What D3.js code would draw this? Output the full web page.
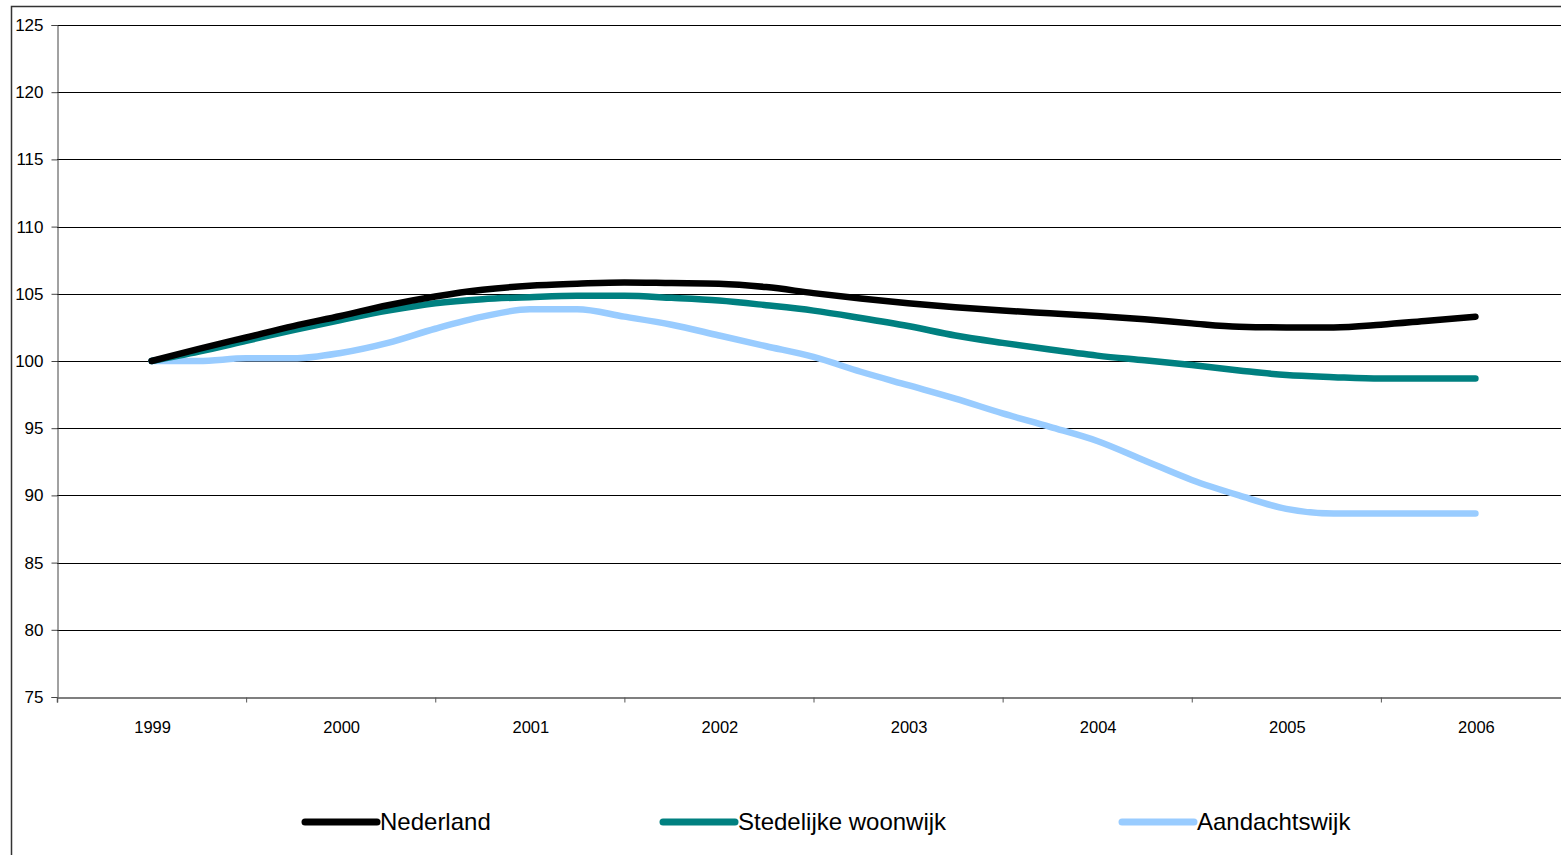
<!DOCTYPE html>
<html>
<head>
<meta charset="utf-8">
<script src="https://cdn.jsdelivr.net/npm/d3@7"></script>
<style>
  html, body { margin: 0; padding: 0; background: #fff; }
  svg { display: block; font-family: "Liberation Sans", Arial, sans-serif; }
</style>
</head>
<body>
<svg id="chart" width="1561" height="855"></svg>
<script>
// ---- Data ----
const years = ["1999", "2000", "2001", "2002", "2003", "2004", "2005", "2006"];
const yTicks = [75, 80, 85, 90, 95, 100, 105, 110, 115, 120, 125];
const seriesNames = ["Nederland", "Stedelijke woonwijk", "Aandachtswijk"];
// quarterly index values, 1999 Q1 .. 2006 Q1 (29 points)
const nederland = [100.0, 100.9, 101.75, 102.6, 103.35, 104.15, 104.8, 105.3, 105.6, 105.75, 105.85, 105.8, 105.75, 105.5, 105.05, 104.65, 104.3, 104.0, 103.75, 103.55, 103.35, 103.1, 102.8, 102.55, 102.5, 102.5, 102.7, 103.0, 103.3];
const stedelijk = [100.0, 100.7, 101.5, 102.3, 103.05, 103.75, 104.3, 104.6, 104.75, 104.85, 104.85, 104.7, 104.5, 104.15, 103.75, 103.2, 102.6, 101.9, 101.35, 100.85, 100.4, 100.05, 99.7, 99.3, 98.95, 98.8, 98.7, 98.7, 98.7];
const aandacht = [100.0, 100.0, 100.2, 100.2, 100.6, 101.35, 102.4, 103.3, 103.85, 103.85, 103.3, 102.7, 101.9, 101.1, 100.3, 99.2, 98.2, 97.2, 96.1, 95.1, 94.05, 92.6, 91.15, 90.0, 89.0, 88.65, 88.65, 88.65, 88.65];
const colors = ["#000000", "#008080", "#99CCFF"];

// ---- Layout ----
const svg = d3.select("#chart");
const mLeft = 57, mRight = 1570, mTop = 25, mBottom = 697;

// x over quarter index; each year is a category 4 quarters wide, label at Q1 point
const x = d3.scaleLinear().domain([-2, 30]).range([mLeft, mRight]);
const y = d3.scaleLinear().domain([75, 125]).range([mBottom, mTop]);

// frame
svg.append("rect").attr("x", 11.5).attr("y", 6.5).attr("width", 1600).attr("height", 900)
  .attr("fill", "none").attr("stroke", "#333").attr("stroke-width", 1.5);

// gridlines
svg.append("g").selectAll("line").data(yTicks.filter(d => d !== 75)).join("line")
  .attr("x1", mLeft).attr("x2", mRight)
  .attr("y1", d => Math.round(y(d)) + 0.5).attr("y2", d => Math.round(y(d)) + 0.5)
  .attr("stroke", "#000").attr("stroke-width", 1);

// y axis
const yAxis = d3.axisLeft(y).tickValues(yTicks).tickSize(6).tickPadding(8).tickFormat(d3.format("d"));
const gy = svg.append("g").attr("transform", `translate(${mLeft + 0.5},0)`).call(yAxis);
gy.select(".domain").attr("stroke", "#444");
gy.selectAll(".tick line").attr("stroke", "#444");
gy.selectAll("text").attr("font-size", 17).attr("fill", "#000");

// x axis: tick marks at category boundaries, labels at category centers
const boundaries = d3.range(years.length + 1).map(i => -2 + 4 * i);
const xAxis = d3.axisBottom(x).tickValues(boundaries).tickSize(5).tickFormat("");
const gx = svg.append("g").attr("transform", `translate(0,${mBottom + 0.5})`).call(xAxis);
gx.select(".domain").attr("stroke", "#555").attr("stroke-width", 1.5);
gx.selectAll(".tick line").attr("stroke", "#555");

svg.append("g").selectAll("text").data(years).join("text")
  .attr("x", (d, i) => x(i * 4) + 1)
  .attr("y", 733)
  .attr("text-anchor", "middle")
  .attr("font-size", 16.5)
  .attr("fill", "#000")
  .text(d => d);

// lines
const allSeries = [nederland, stedelijk, aandacht];
const line = d3.line().x((d, i) => x(i)).y(d => y(d)).curve(d3.curveMonotoneX);
// draw light blue first, then teal, then black on top
[2, 1, 0].forEach(k => {
  svg.append("path").datum(allSeries[k])
    .attr("d", line)
    .attr("fill", "none")
    .attr("stroke", colors[k])
    .attr("stroke-width", 6.5)
    .attr("stroke-linecap", "round")
    .attr("stroke-linejoin", "round");
});

// legend
const legendX = [305, 663, 1122];
const legend = svg.append("g");
seriesNames.forEach((name, k) => {
  legend.append("line")
    .attr("x1", legendX[k]).attr("x2", legendX[k] + 72)
    .attr("y1", 822).attr("y2", 822)
    .attr("stroke", colors[k]).attr("stroke-width", 7).attr("stroke-linecap", "round");
  legend.append("text")
    .attr("x", legendX[k] + 75).attr("y", 830)
    .attr("font-size", 24)
    .attr("fill", "#000")
    .text(name);
});
</script>
</body>
</html>
